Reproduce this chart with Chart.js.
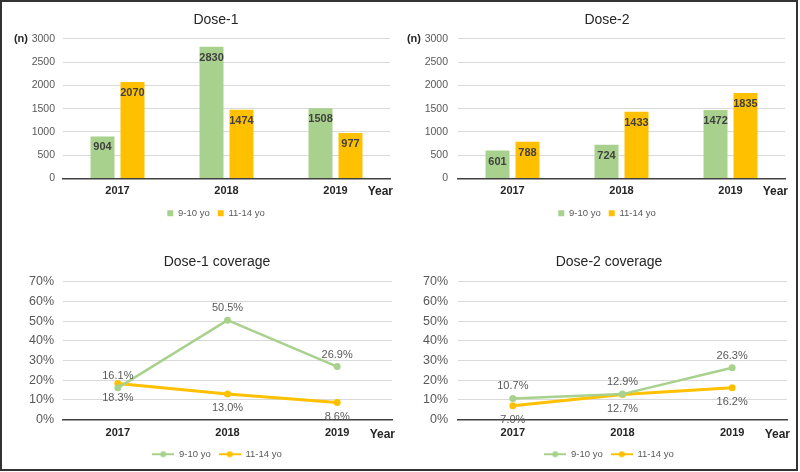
<!DOCTYPE html>
<html>
<head>
<meta charset="utf-8">
<script src="https://cdn.jsdelivr.net/npm/chart.js@4.4.0/dist/chart.umd.min.js"></script>
<style>
  html, body { margin: 0; padding: 0; background: #fff; overflow: hidden; }
  #page { position: absolute; left: 0; top: 0; width: 800px; height: 472px; overflow: hidden; }
  #page canvas { position: absolute; }
  #frame { position: absolute; left: 0; top: 0; width: 798px; height: 471px; box-sizing: border-box; border: 2px solid #333; pointer-events: none; }
</style>
</head>
<body>
<div id="page">
  <canvas id="dose1" width="432" height="236" style="left:0;top:0"></canvas>
  <canvas id="dose2" width="414" height="236" style="left:400px;top:0"></canvas>
  <canvas id="cov1" width="434" height="236" style="left:0;top:236px"></canvas>
  <canvas id="cov2" width="418" height="236" style="left:400px;top:236px"></canvas>
  <div id="frame"></div>
</div>
<script>
// ── data ────────────────────────────────────────────────────────────────
const years = ["2017", "2018", "2019"];
const groupNames = ["9-10 yo", "11-14 yo"];

const dose1Young = [904, 2830, 1508];
const dose1Old = [2070, 1474, 977];
const dose2Young = [601, 724, 1472];
const dose2Old = [788, 1433, 1835];

const cov1Young = [16.1, 50.5, 26.9];
const cov1Old = [18.3, 13.0, 8.6];
const cov2Young = [10.7, 12.9, 26.3];
const cov2Old = [7.0, 12.7, 16.2];

const countMax = 3000, countStep = 500;
const pctMax = 70, pctStep = 10;

// ── look ────────────────────────────────────────────────────────────────
const GREEN = "#A9D18E";
const ORANGE = "#FFC000";
const FONT = "'Liberation Sans', Arial, sans-serif";
Chart.defaults.font.family = FONT;
Chart.defaults.color = "#595959";

// value labels drawn next to each bar / point
function valueLabels(font, color, suffix, decimals) {
  return {
    id: "valueLabels",
    afterDatasetsDraw(chart) {
      const ctx = chart.ctx;
      ctx.save();
      ctx.font = font;
      ctx.fillStyle = color;
      ctx.textAlign = "center";
      ctx.textBaseline = "middle";
      chart.data.datasets.forEach((ds, i) => {
        chart.getDatasetMeta(i).data.forEach((el, j) => {
          const txt = ds.data[j].toFixed(decimals) + suffix;
          ctx.fillText(txt, el.x, el.y + ds.labelOffset);
        });
      });
      ctx.restore();
    },
  };
}

// "(n)" above the y axis and "Year" after the x labels
function axisNotes(unitText, unitX, yearY) {
  return {
    id: "axisNotes",
    afterDraw(chart) {
      const ctx = chart.ctx, a = chart.chartArea;
      ctx.save();
      ctx.fillStyle = "#262626";
      ctx.textBaseline = "middle";
      ctx.font = "bold 12px " + FONT;
      ctx.textAlign = "right";
      ctx.fillText("Year", a.right + 3, yearY);
      if (unitText) {
        ctx.font = "bold 11px " + FONT;
        ctx.textAlign = "right";
        ctx.fillText(unitText, unitX, a.top);
      }
      ctx.restore();
    },
  };
}

function lineMarker(color) {
  const c = document.createElement("canvas");
  c.width = 22; c.height = 8;
  const g = c.getContext("2d");
  g.strokeStyle = color; g.lineWidth = 2;
  g.beginPath(); g.moveTo(0, 4); g.lineTo(22, 4); g.stroke();
  g.fillStyle = color;
  g.beginPath(); g.arc(11, 4, 3, 0, Math.PI * 2); g.fill();
  return c;
}
const markers = [lineMarker(GREEN), lineMarker(ORANGE)];

function xScale(labelPad) {
  return {
    grid: { display: false, drawTicks: false },
    border: { display: true, color: "#404040", width: 1.5 },
    ticks: { color: "#262626", font: { size: 11, weight: "bold" }, padding: labelPad },
    afterFit: (s) => { s.height = 22; },
  };
}

function yScale(max, step, width, pad, suffix, fontSize) {
  return {
    min: 0, max: max,
    grid: { color: "#d9d9d9", lineWidth: 1, drawTicks: false },
    border: { display: false },
    ticks: {
      stepSize: step, padding: pad, color: "#595959", font: { size: fontSize },
      callback: (v) => v + suffix,
    },
    afterFit: (s) => { s.width = width; },
  };
}

// empty right-hand box: keeps the plot's right edge in place while the
// title and legend stay centred on the whole (wider) canvas
function spacer(width) {
  return {
    position: "right",
    grid: { display: false },
    border: { display: false },
    ticks: { display: false },
    afterFit: (s) => { s.width = width; },
  };
}

function barChart(id, title, young, old, p) {
  return new Chart(document.getElementById(id), {
    type: "bar",
    data: {
      labels: years,
      datasets: [
        { label: groupNames[0], data: young, backgroundColor: GREEN, labelOffset: 11 },
        { label: groupNames[1], data: old, backgroundColor: ORANGE, labelOffset: 11 },
      ],
    },
    options: {
      responsive: false,
      animation: false,
      categoryPercentage: 0.55,
      barPercentage: 0.8,
      layout: { padding: { left: 0, right: 0, top: 0, bottom: 8 } },
      scales: {
        x: xScale(6),
        y: yScale(countMax, countStep, p.yWidth, p.yPad, "", 10.5),
        pad: spacer(p.right),
      },
      plugins: {
        title: { display: true, text: title, color: "#262626", font: { size: 14, weight: "normal" }, padding: { top: 12, bottom: 10 } },
        legend: {
          position: "bottom",
          labels: { boxWidth: 6, boxHeight: 6, padding: 8, color: "#595959", font: { size: 9.5 } },
        },
        tooltip: { enabled: false },
      },
    },
    plugins: [valueLabels("bold 11px " + FONT, "#404040", "", 0), axisNotes("(n)", p.unitX, 192)],
  });
}

function lineChart(id, title, young, old, p) {
  return new Chart(document.getElementById(id), {
    type: "line",
    data: {
      labels: years,
      datasets: [
        { label: groupNames[0], data: young, borderColor: GREEN, backgroundColor: GREEN, borderWidth: 2.5,
          pointRadius: 3.5, pointBackgroundColor: GREEN, pointBorderWidth: 0, labelOffset: -12 },
        { label: groupNames[1], data: old, borderColor: ORANGE, backgroundColor: ORANGE, borderWidth: 3,
          pointRadius: 3.5, pointBackgroundColor: ORANGE, pointBorderWidth: 0, labelOffset: 14 },
      ],
    },
    options: {
      responsive: false,
      animation: false,
      layout: { padding: { left: 0, right: 0, top: 0, bottom: 3 } },
      scales: {
        x: Object.assign(xScale(7), { offset: true }),
        y: yScale(pctMax, pctStep, p.yWidth, p.yPad, "%", 12.5),
        pad: spacer(p.right),
      },
      plugins: {
        title: { display: true, text: title, color: "#262626", font: { size: 14, weight: "normal" }, padding: { top: 18, bottom: 11 } },
        legend: {
          position: "bottom",
          labels: {
            usePointStyle: true, pointStyleWidth: 22, boxHeight: 8, padding: 8,
            color: "#595959", font: { size: 9.5 },
            generateLabels(chart) {
              const items = Chart.defaults.plugins.legend.labels.generateLabels(chart);
              items.forEach((it, i) => { it.pointStyle = markers[i]; });
              return items;
            },
          },
        },
        tooltip: { enabled: false },
      },
    },
    plugins: [valueLabels("11px " + FONT, "#595959", "%", 1), axisNotes("", 0, 199)],
  });
}

barChart("dose1", "Dose-1", dose1Young, dose1Old, { right: 42, yWidth: 63, yPad: 8, unitX: 28 });
barChart("dose2", "Dose-2", dose2Young, dose2Old, { right: 29, yWidth: 58, yPad: 10, unitX: 21 });
lineChart("cov1", "Dose-1 coverage", cov1Young, cov1Old, { right: 42, yWidth: 63, yPad: 9 });
lineChart("cov2", "Dose-2 coverage", cov2Young, cov2Old, { right: 31, yWidth: 58, yPad: 10 });
</script>
</body>
</html>
